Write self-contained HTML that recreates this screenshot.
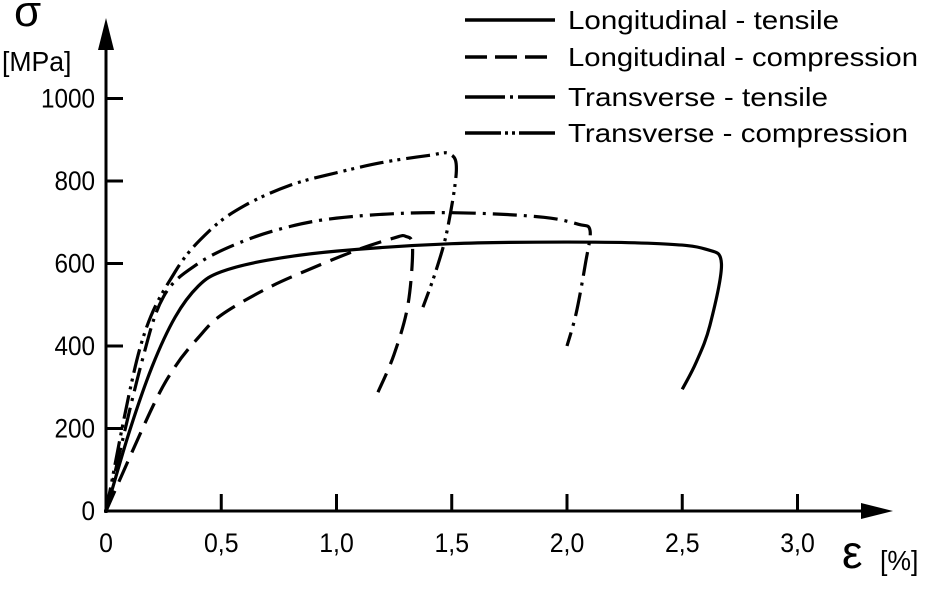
<!DOCTYPE html>
<html><head><meta charset="utf-8"><style>
body{margin:0;background:#fff}
svg{display:block}
text{font-family:"Liberation Sans",sans-serif;fill:#000}
</style></head><body>
<svg id="chart" width="941" height="589" viewBox="0 0 941 589"></svg>
<script>
const xTicks=[0,0.5,1.0,1.5,2.0,2.5,3.0];
const xTickLabels=["0","0,5","1,0","1,5","2,0","2,5","3,0"];
const yTicks=[0,200,400,600,800,1000];
const yTickLabels=["0","200","400","600","800","1000"];
const seriesNames=["Longitudinal - tensile","Longitudinal - compression","Transverse - tensile","Transverse - compression"];
const longTensileStrain=[0,0.1,0.2,0.3,0.4,0.5,0.7,1.0,1.5,2.0,2.4,2.6,2.67,2.62,2.56,2.5];
const longTensileStress=[0,190,350,470,545,580,608,630,648,652,648,635,600,450,360,295];
const longCompStrain=[0,0.2,0.3,0.4,0.5,0.7,0.9,1.1,1.25,1.3,1.33,1.31,1.25,1.18];
const longCompStress=[0,250,350,420,475,540,590,635,662,666,640,500,380,288];
const transTensileStrain=[0,0.15,0.25,0.4,0.6,0.8,1.0,1.3,1.6,1.9,2.05,2.1,2.08,2.04,2.0];
const transTensileStress=[0,350,520,600,655,690,710,722,722,712,695,680,600,480,400];
const transCompStrain=[0,0.15,0.3,0.45,0.6,0.8,1.0,1.2,1.4,1.49,1.52,1.48,1.43,1.375];
const transCompStress=[0,400,580,680,740,790,820,845,862,866,825,680,580,494];

const X=e=>106+230.5*e, Y=s=>511-0.4125*s;
const svg=document.getElementById('chart');
const NS='http://www.w3.org/2000/svg';
function mk(tag,attrs,parent){const el=document.createElementNS(NS,tag);for(const k in attrs)el.setAttribute(k,attrs[k]);(parent||svg).appendChild(el);return el;}
function txt(x,y,size,anchor,str,sx){const t=mk('text',{transform:'translate('+x+','+y+') scale('+sx+',1)','font-size':size,'text-anchor':anchor});t.textContent=str;return t;}

let ax=mk('line',{x1:106,y1:513,x2:106,y2:45,stroke:'#000','stroke-width':3});


let ay=mk('polygon',{points:'106,18 98,50 114,50'});


let bx=mk('line',{x1:104,y1:511,x2:865,y2:511,stroke:'#000','stroke-width':3});


let bxa=mk('polygon',{points:'893,511 861,503 861,519'});



xTicks.forEach((v,i)=>{
  if(i>0){const t=mk('line',{x1:X(v),y1:511,x2:X(v),y2:494,stroke:'#000','stroke-width':3});
  
  }
  const l=txt(X(v),552,27,'middle',xTickLabels[i],0.92);
  
  
});
yTicks.forEach((v,i)=>{
  if(i>0){const t=mk('line',{x1:106,y1:Y(v),x2:123,y2:Y(v),stroke:'#000','stroke-width':3});
  
  }
  const l=txt(95,Y(v)+9,27,'end',yTickLabels[i],0.9);
  
  
});
let s1=txt(14,26,44,'start','σ',1);


let s2=txt(2,71,28,'start','[MPa]',0.95);


let s3=txt(842,568,46,'start','ε',1);


let s4=txt(880,570,28,'start','[%]',0.95);



const dashes=['none','22 10','24 7 3 7','24 6 3 5 3 6'];
const xs=[longTensileStrain,longCompStrain,transTensileStrain,transCompStrain];
const ys=[longTensileStress,longCompStress,transTensileStress,transCompStress];
const names=['series-longitudinal-tensile','series-longitudinal-compression','series-transverse-tensile','series-transverse-compression'];
function smooth(pts){let d='M'+pts[0][0]+','+pts[0][1];
  for(let i=0;i<pts.length-1;i++){const p0=pts[i-1]||pts[i],p1=pts[i],p2=pts[i+1],p3=pts[i+2]||p2;
    const c1=[p1[0]+(p2[0]-p0[0])/6,p1[1]+(p2[1]-p0[1])/6],c2=[p2[0]-(p3[0]-p1[0])/6,p2[1]-(p3[1]-p1[1])/6];
    d+=' C'+c1+' '+c2+' '+p2;}return d;}
xs.forEach((arr,k)=>{
  const pts=arr.map((e,i)=>[X(e),Y(ys[k][i])]);
  const p=mk('path',{d:smooth(pts),fill:'none',stroke:'#000','stroke-width':3.2,'stroke-dasharray':dashes[k],'stroke-linejoin':'round'});
  
  
});
const ly=[20,57,97,133];
seriesNames.forEach((n,k)=>{
  const g=mk('g',{});
  
  
  mk('line',{x1:465,y1:ly[k],x2:555,y2:ly[k],stroke:'#000','stroke-width':3.5,'stroke-dasharray':k==0?'none':(k==1?'22 8':(k==2?'40 5 3 5':'36 4 3 4 3 4'))},g);
  const t=mk('text',{x:568,y:ly[k]+9,'font-size':26,textLength:[271,350,260,340][k],lengthAdjust:'spacingAndGlyphs'},g);t.textContent=n;
});
</script>
</body></html>
